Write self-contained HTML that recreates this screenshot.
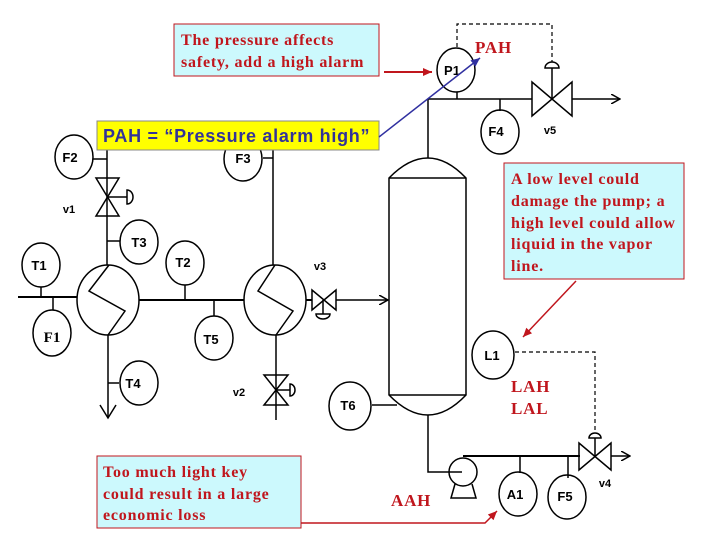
<!DOCTYPE html>
<html><head><meta charset="utf-8"><style>
body{margin:0;background:#fff}
svg{display:block}
.l{font-family:"Liberation Sans",sans-serif;font-weight:bold;font-size:13px}
.r{font-family:"Liberation Serif",serif;font-weight:bold;fill:#c0161d;letter-spacing:0.8px}
</style></head><body>
<svg width="720" height="540" viewBox="0 0 720 540" xmlns="http://www.w3.org/2000/svg">
<defs>
<marker id="ab" markerWidth="10" markerHeight="10" refX="9" refY="5" orient="auto" markerUnits="userSpaceOnUse"><path d="M0,0 L9,5 L0,10" fill="none" stroke="#000" stroke-width="1.5"/></marker>
<marker id="ar" markerWidth="10" markerHeight="10" refX="9" refY="5" orient="auto" markerUnits="userSpaceOnUse"><path d="M0,1 L9,5 L0,9z" fill="#c0161d"/></marker>
<marker id="au" markerWidth="10" markerHeight="10" refX="9" refY="5" orient="auto" markerUnits="userSpaceOnUse"><path d="M0,1 L9,5 L0,9z" fill="#3030a0"/></marker>
</defs>
<g fill="none" stroke="#000" stroke-width="1.5">
<line x1="107" y1="150" x2="107" y2="265"/>
<line x1="93" y1="159" x2="107" y2="159"/>
<path d="M96,178 L119,178 L96,216 L119,216 Z"/>
<line x1="107" y1="197" x2="127" y2="197"/><path d="M127,190 A6,7 0 0 1 127,204 Z"/>
<line x1="107" y1="241" x2="120" y2="241"/>
<line x1="18" y1="297" x2="77" y2="297" stroke-width="2"/>
<line x1="41" y1="287" x2="41" y2="297"/>
<line x1="53" y1="297" x2="53" y2="310"/>
<ellipse cx="108" cy="300" rx="31" ry="35"/>
<path d="M109,265 L89,291 L125,311 L108,335"/>
<line x1="139" y1="300" x2="244" y2="300" stroke-width="2"/>
<line x1="185" y1="285" x2="185" y2="300"/>
<line x1="214" y1="300" x2="214" y2="316"/>
<ellipse cx="275" cy="300" rx="31" ry="35"/>
<path d="M275,265 L258,291 L293,311 L276,335"/>
<line x1="273" y1="150" x2="273" y2="265"/>
<line x1="263" y1="158" x2="273" y2="158"/>
<line x1="306" y1="300" x2="312" y2="300" stroke-width="2"/>
<path d="M312,290 L312,310 L336,290 L336,310 Z"/>
<line x1="323" y1="300" x2="323" y2="314"/><path d="M316,314 A7,5 0 0 0 330,314 Z"/>
<line x1="336" y1="300" x2="388" y2="300" marker-end="url(#ab)"/>
<line x1="108" y1="335" x2="108" y2="418"/>
<path d="M100,405 L108,418 L116,405"/>
<line x1="108" y1="383" x2="119" y2="383"/>
<line x1="276" y1="335" x2="276" y2="420"/>
<path d="M264,375 L288,375 L264,405 L288,405 Z"/>
<line x1="276" y1="390" x2="290" y2="390"/><path d="M290,384 A5,6 0 0 1 290,396 Z"/>
<path d="M457,47 L457,24 L552,24 L552,62" stroke-dasharray="4,3" stroke-width="1.2"/>
<path d="M545,68 A7,6 0 0 1 559,68 Z"/>
<line x1="552" y1="68" x2="552" y2="99"/>
<path d="M532,82 L532,116 L572,82 L572,116 Z"/>
<line x1="428" y1="99" x2="532" y2="99"/>
<line x1="572" y1="99" x2="620" y2="99" marker-end="url(#ab)"/>
<line x1="457" y1="92" x2="457" y2="99"/>
<line x1="500" y1="99" x2="500" y2="111"/>
<line x1="428" y1="99" x2="428" y2="158"/>
<path d="M389,178 Q428,138 466,178 L466,395 Q428,435 389,395 Z"/>
<line x1="389" y1="178" x2="466" y2="178"/>
<line x1="389" y1="395" x2="466" y2="395"/>
<line x1="372" y1="405" x2="397" y2="405"/>
<path d="M428,415 L428,472 L462,472"/>
<circle cx="463" cy="472" r="14"/>
<path d="M455,484 L451,498 L476,498 L472,484"/>
<line x1="463" y1="456" x2="580" y2="456" stroke-width="2"/>
<line x1="520" y1="456" x2="520" y2="473"/>
<line x1="568" y1="456" x2="568" y2="478"/>
<path d="M579,443 L579,470 L611,443 L611,470 Z"/>
<line x1="595" y1="438" x2="595" y2="456"/><path d="M589,438 A6,5 0 0 1 601,438 Z"/>
<line x1="611" y1="456" x2="630" y2="456" marker-end="url(#ab)"/>
<path d="M515,352 L595,352 L595,432" stroke-dasharray="4,3" stroke-width="1.2"/>
<ellipse cx="74" cy="157" rx="19" ry="22"/>
<ellipse cx="139" cy="242" rx="19" ry="22"/>
<ellipse cx="41" cy="265" rx="19" ry="22"/>
<ellipse cx="52" cy="333" rx="19" ry="23"/>
<ellipse cx="185" cy="263" rx="19" ry="22"/>
<ellipse cx="214" cy="338" rx="19" ry="22"/>
<ellipse cx="243" cy="159" rx="19" ry="22"/>
<ellipse cx="139" cy="383" rx="19" ry="22"/>
<ellipse cx="350" cy="406" rx="21" ry="24"/>
<ellipse cx="456" cy="70" rx="19" ry="22"/>
<ellipse cx="500" cy="132" rx="19" ry="22"/>
<ellipse cx="493" cy="355" rx="21" ry="24"/>
<ellipse cx="518" cy="494" rx="19" ry="22"/>
<ellipse cx="567" cy="497" rx="19" ry="22"/>
</g>
<g class="l" text-anchor="middle">
<text x="70" y="162">F2</text><text x="139" y="247">T3</text><text x="39" y="270">T1</text>
<text x="52" y="342" style="font-family:'Liberation Serif',serif;font-size:15px">F1</text>
<text x="183" y="267">T2</text><text x="211" y="344">T5</text><text x="243" y="163">F3</text>
<text x="133" y="388">T4</text><text x="348" y="410">T6</text><text x="452" y="75">P1</text>
<text x="496" y="136">F4</text><text x="492" y="360">L1</text><text x="515" y="499">A1</text>
<text x="565" y="501">F5</text>
<text x="69" y="213" font-size="11">v1</text><text x="239" y="396" font-size="11">v2</text>
<text x="320" y="270" font-size="11">v3</text><text x="550" y="134" font-size="11">v5</text>
<text x="605" y="487" font-size="11">v4</text>
</g>
<rect x="174" y="24" width="205" height="52" fill="#ccf9fd" stroke="#c0161d"/>
<text class="r" font-size="16" x="181" y="45">The pressure affects</text>
<text class="r" font-size="16" x="181" y="67">safety, add a high alarm</text>
<line x1="384" y1="72" x2="432" y2="72" stroke="#c0161d" stroke-width="2" marker-end="url(#ar)"/>
<text class="r" font-size="17" x="475" y="53">PAH</text>
<rect x="97" y="121" width="282" height="29" fill="#ffff00" stroke="#888"/>
<text x="103" y="142" font-family="Liberation Sans,sans-serif" font-weight="bold" font-size="18" letter-spacing="0.7" fill="#333399">PAH = “Pressure alarm high”</text>
<line x1="379" y1="137" x2="480" y2="58" stroke="#3030a0" stroke-width="1.5" marker-end="url(#au)"/>
<rect x="504" y="163" width="180" height="116" fill="#ccf9fd" stroke="#c0161d"/>
<g class="r" font-size="16"><text x="511" y="184">A low level could</text><text x="511" y="206">damage the pump; a</text><text x="511" y="228">high level could allow</text><text x="511" y="249">liquid in the vapor</text><text x="511" y="271">line.</text></g>
<line x1="576" y1="281" x2="523" y2="337" stroke="#c0161d" stroke-width="1.5" marker-end="url(#ar)"/>
<text class="r" font-size="17" x="511" y="392">LAH</text>
<text class="r" font-size="17" x="511" y="414">LAL</text>
<rect x="97" y="456" width="204" height="72" fill="#ccf9fd" stroke="#c0161d"/>
<g class="r" font-size="16"><text x="103" y="477">Too much light key</text><text x="103" y="499">could result in a large</text><text x="103" y="520">economic loss</text></g>
<text class="r" font-size="17" x="391" y="506">AAH</text>
<path d="M301,523 L485,523 L497,511" fill="none" stroke="#c0161d" stroke-width="1.5" marker-end="url(#ar)"/>
</svg>
</body></html>
